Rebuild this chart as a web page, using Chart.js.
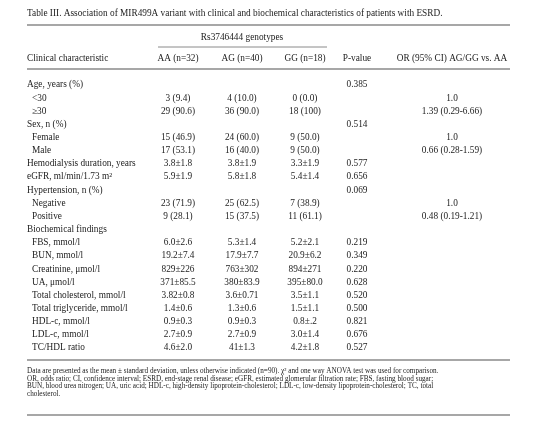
<!DOCTYPE html><html><head><meta charset="utf-8">
<script src="https://cdn.jsdelivr.net/npm/chart.js@4"></script>
<style>html,body{margin:0;padding:0;background:#fff}#c{display:block}</style></head><body>
<div style="width:550px;height:428px"><canvas id="c" width="550" height="428"></canvas></div>
<script>
const title = "Table III. Association of MIR499A variant with clinical and biochemical characteristics of patients with ESRD.";
const groupHeader = "Rs3746444 genotypes";
const columns = ["Clinical characteristic","AA (n=32)","AG (n=40)","GG (n=18)","P-value","OR (95% CI) AG/GG vs. AA"];
const rowLabels = ["Age, years (%)","<30","≥30","Sex, n (%)","Female","Male","Hemodialysis duration, years","eGFR, ml/min/1.73 m²","Hypertension, n (%)","Negative","Positive","Biochemical findings","FBS, mmol/l","BUN, mmol/l","Creatinine, μmol/l","UA, μmol/l","Total cholesterol, mmol/l","Total triglyceride, mmol/l","HDL-c, mmol/l","LDL-c, mmol/l","TC/HDL ratio"];
const indented = [0,1,1,0,1,1,0,0,0,1,1,0,1,1,1,1,1,1,1,1,1];
const aa = ["","3 (9.4)","29 (90.6)","","15 (46.9)","17 (53.1)","3.8±1.8","5.9±1.9","","23 (71.9)","9 (28.1)","","6.0±2.6","19.2±7.4","829±226","371±85.5","3.82±0.8","1.4±0.6","0.9±0.3","2.7±0.9","4.6±2.0"];
const ag = ["","4 (10.0)","36 (90.0)","","24 (60.0)","16 (40.0)","3.8±1.9","5.8±1.8","","25 (62.5)","15 (37.5)","","5.3±1.4","17.9±7.7","763±302","380±83.9","3.6±0.71","1.3±0.6","0.9±0.3","2.7±0.9","41±1.3"];
const gg = ["","0 (0.0)","18 (100)","","9 (50.0)","9 (50.0)","3.3±1.9","5.4±1.4","","7 (38.9)","11 (61.1)","","5.2±2.1","20.9±6.2","894±271","395±80.0","3.5±1.1","1.5±1.1","0.8±.2","3.0±1.4","4.2±1.8"];
const pValues = ["0.385","","","0.514","","","0.577","0.656","0.069","","","","0.219","0.349","0.220","0.628","0.520","0.500","0.821","0.676","0.527"];
const orCI = ["","1.0","1.39 (0.29-6.66)","","1.0","0.66 (0.28-1.59)","","","","1.0","0.48 (0.19-1.21)","","","","","","","","","",""];
const footnote = ["Data are presented as the mean ± standard deviation, unless otherwise indicated (n=90). χ² and one way ANOVA test was used for comparison.",
"OR, odds ratio; CI, confidence interval; ESRD, end-stage renal disease; eGFR, estimated glomerular filtration rate; FBS, fasting blood sugar;",
"BUN, blood urea nitrogen; UA, uric acid; HDL-c, high-density lipoprotein-cholesterol; LDL-c, low-density lipoprotein-cholesterol; TC, total",
"cholesterol."];

const tablePlugin = {
  id:'table',
  afterDraw(chart){
    const ctx = chart.ctx;
    ctx.save();
    ctx.fillStyle='#222';
    ctx.textBaseline='middle';
    const F = s => s+'px "Liberation Serif", "DejaVu Serif", serif';
    ctx.font=F(9.3); ctx.textAlign='left';
    ctx.fillText(title,27,14, 420);
    ctx.strokeStyle='#8a8a8a';
    const line=(x1,y,x2,w)=>{ctx.lineWidth=w;ctx.beginPath();ctx.moveTo(x1,y);ctx.lineTo(x2,y);ctx.stroke();};
    line(27,25,510,1.5); line(158,47,327,1); line(27,69,510,1.5);
    line(27,360,510,1.5); line(27,415,510,1.5);
    ctx.font=F(9.3);
    ctx.textAlign='center'; ctx.fillText(groupHeader,242,38);
    const cx=[0,178,242,305,357,452];
    ctx.textAlign='left'; ctx.fillText(columns[0],27,59);
    ctx.textAlign='center';
    for(let i=1;i<columns.length;i++) ctx.fillText(columns[i],cx[i],59);
    const y0=85, dy=13.15;
    rowLabels.forEach((lab,i)=>{
      const y=y0+i*dy;
      ctx.textAlign='left';
      ctx.fillText(lab, indented[i]?32:27, y);
      ctx.textAlign='center';
      ctx.fillText(aa[i],cx[1],y); ctx.fillText(ag[i],cx[2],y); ctx.fillText(gg[i],cx[3],y);
      ctx.fillText(pValues[i],cx[4],y); ctx.fillText(orCI[i],cx[5],y);
    });
    ctx.font=F(7.2); ctx.textAlign='left';
    footnote.forEach((t,i)=>ctx.fillText(t,27,371+i*7.8, i<3?481:undefined));
    ctx.restore();
  }
};
new Chart(document.getElementById('c'),{
  type:'bar',
  data:{labels:rowLabels,datasets:[{data:[],backgroundColor:'rgba(0,0,0,0)'}]},
  options:{responsive:false,animation:false,events:[],
    plugins:{legend:{display:false},tooltip:{enabled:false}},
    scales:{x:{display:false},y:{display:false}}},
  plugins:[tablePlugin]
});
</script></body></html>
